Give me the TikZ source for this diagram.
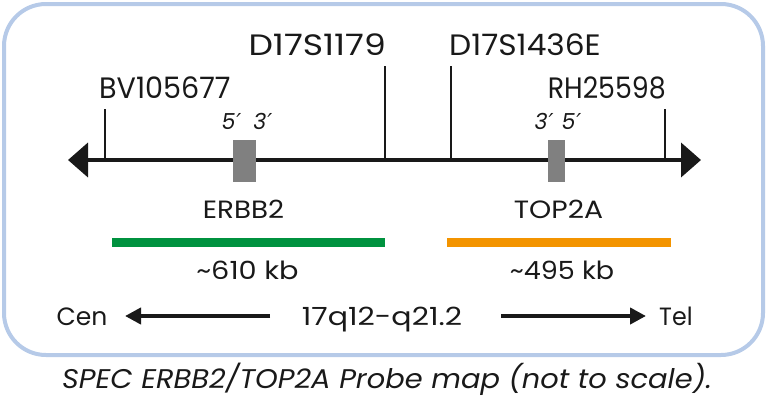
\documentclass[tikz,border=0pt]{standalone}
\usepackage{graphicx}
\usepackage{fontspec}
\setmainfont{Poppins}
\newfontfamily\primefont{DejaVu Sans}
\usetikzlibrary{arrows.meta}
\definecolor{frameblue}{RGB}{182,202,232}
\definecolor{ink}{RGB}{25,25,25}
\definecolor{probegreen}{RGB}{0,146,63}
\definecolor{probeorange}{RGB}{243,148,0}
\definecolor{genegray}{RGB}{128,128,128}
\newcommand{\pr}{\hspace{1pt}{\primefont\itshape ′}}
\newcommand{\hx}[2]{\scalebox{#1}[1]{#2}}
\begin{document}
\begin{tikzpicture}[x=1pt,y=-1pt,
  marker/.style={font=\fontsize{29.5}{29.5}\selectfont, inner sep=0pt, text=ink},
  gene/.style={font=\fontsize{25}{25}\selectfont, inner sep=0pt, text=ink},
  prime/.style={font=\fontsize{22}{22}\selectfont\itshape, inner sep=0pt, text=ink},
  tickline/.style={line width=2pt, draw=ink},
  axis/.style={line width=4pt, draw=ink},
  genebox/.style={fill=genegray, draw=none, inner sep=0pt, minimum height=42pt},
  probebar/.style={line width=9pt}]
\useasboundingbox (0,0) rectangle (768,402);
\draw[frameblue, line width=4pt, rounded corners=42pt] (4,4) rectangle (763,355);
% main axis
\coordinate (axL) at (68,160);
\coordinate (axR) at (701,160);
\draw[axis, {Triangle[length=20pt,width=34pt]}-{Triangle[length=20pt,width=34pt]}] (axL) -- (axR);
% ticks
\coordinate (t1) at (105,109); \coordinate (b1) at (105,160);
\coordinate (t2) at (385,66);  \coordinate (b2) at (385,160);
\coordinate (t3) at (451,66);  \coordinate (b3) at (451,160);
\coordinate (t4) at (665,109); \coordinate (b4) at (665,160);
\draw[tickline] (t1) -- (b1);
\draw[tickline] (t2) -- (b2);
\draw[tickline] (t3) -- (b3);
\draw[tickline] (t4) -- (b4);
\node[marker, anchor=base west] (bv) at (99,98) {\hx{0.97}{BV105677}};
\node[marker, anchor=base east] (d1) at (386,55) {\hx{1.17}{D17S1179}};
\node[marker, anchor=base west] (d2) at (449,55) {\hx{1.06}{D17S1436E}};
\node[marker, anchor=base east] (rh) at (666,98) {\hx{0.91}{RH25598}};
% genes
\node[genebox, minimum width=23pt] (erbbox) at (244.5,161) {};
\node[genebox, minimum width=17pt] (topbox) at (556.5,161) {};
\node[prime, anchor=base] (p1) at (247,129) {5\pr\hspace{12pt}3\pr};
\node[prime, anchor=base] (p2) at (558,129) {3\pr\hspace{8pt}5\pr};
\node[gene, anchor=base] (erbb) at (243.5,218) {\hx{1.11}{ERBB2}};
\node[gene, anchor=base] (top) at (558.5,218) {\hx{1.13}{TOP2A}};
% probes
\coordinate (g1) at (112,242); \coordinate (g2) at (385,242);
\coordinate (o1) at (447,242); \coordinate (o2) at (671,242);
\draw[probebar, probegreen] (g1) -- (g2);
\draw[probebar, probeorange] (o1) -- (o2);
\node[gene, anchor=base] (kb1) at (247.5,279) {\hx{1.15}{\char"007E 610 kb}};
\node[gene, anchor=base] (kb2) at (562,279) {\hx{1.08}{\char"007E 495 kb}};
% orientation
\node[gene, anchor=base east] (cen) at (107.5,325) {Cen};
\node[gene, anchor=base] (band) at (382,325) {\hx{1.2}{17q12-q21.2}};
\node[gene, anchor=base west] (tel) at (659,325) {\hx{0.95}{Tel}};
\coordinate (c1) at (270,316); \coordinate (c2) at (125,316);
\coordinate (e1) at (501,316); \coordinate (e2) at (646,316);
\draw[axis, -{Triangle[length=16pt,width=16pt]}] (c1) -- (c2);
\draw[axis, -{Triangle[length=16pt,width=16pt]}] (e1) -- (e2);
% caption
\node[gene, anchor=base, font=\fontsize{27}{27}\selectfont\itshape] (cap) at (387,388) {\hx{1.07}{SPEC ERBB2/TOP2A Probe map (not to scale).}};
\end{tikzpicture}
\end{document}
